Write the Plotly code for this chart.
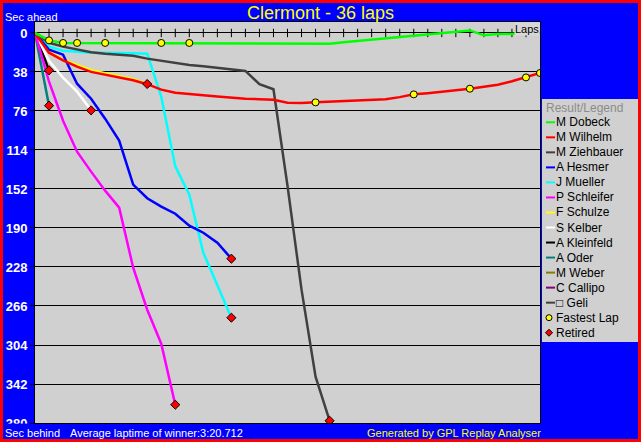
import plotly.graph_objects as go

# ---------------- data (seconds behind reference pace, one value per lap from lap 0) ----------------
drivers = ["M Dobeck", "M Wilhelm", "M Ziehbauer", "A Hesmer", "J Mueller", "P Schleifer",
           "F Schulze", "S Kelber", "A Kleinfeld", "A Oder", "M Weber", "C Callipo", "\u25a1 Geli"]
colors = ["#00FF00", "#FF0000", "#404040", "#0000FF", "#00FFFF", "#FF00FF",
          "#FFFF00", "#FFFFFF", "#000000", "#008080", "#808000", "#800080", "#404040"]

dobeck = [0, 7.2, 9.7, 9.7, 9.7, 9.7, 9.7, 9.7, 9.7, 9.7, 9.7, 9.7, 9.7, 9.7,
          10.4, 10.4, 10.4, 10.4, 10.4, 10.4, 10.4, 10.4,
          9.1, 7.8, 6.8, 5.8, 4.6, 2.6, 1.4, 0.4, -1.0, -2.5, 2.3, 1.0, 1.0, 0.0, 0.0]
wilhelm = [0, 19.2, 26.6, 32.8, 37.9, 40.6, 43.1, 46.0, 49.9, 55.2, 58.2, 59.1, 60.6,
           61.8, 63.0, 64.0, 64.5, 65.0, 67.9, 68.2, 67.6, 66.9, 66.5, 65.5, 65.3, 64.5,
           62.5, 59.8, 58.6, 57.5, 55.9, 54.3, 52.0, 50.4, 47.0, 43.3, 39.0]
ziehbauer = [0, 9.5, 13.3, 16.3, 18.7, 20.2, 21.1, 22.1, 25.0, 27.3, 29.4, 31.2, 32.5,
             33.8, 35.8, 37.0, 49.9, 54.8, 148.8, 250.1, 334.9, 377.8]
hesmer = [0, 16.3, 21.1, 49.4, 64.0, 83.5, 104.9, 147.8, 161.0, 169.2, 176.1, 187.8,
          194.6, 204.3, 219.9]
mueller = [0, 13.3, 17.2, 18.2, 19.2, 19.2, 19.2, 19.7, 20.2, 62.1, 130.0, 157.6,
           214.1, 245.2, 277.4]
schleifer = [0, 47.5, 85.5, 115.7, 135.1, 153.6, 170.2, 228.7, 269.6, 302.7, 362.2]
schulze = [0, 18.2, 26.0, 31.4, 36.2, 39.2, 42.1, 45.0, 49.7]
kelber = [0, 27.0, 43.6, 57.2, 75.4]
kleinfeld = [0, 36.4]
oder = [0, 70.8]
weber = []
callipo = []
geli = []

series = [dobeck, wilhelm, ziehbauer, hesmer, mueller, schleifer, schulze, kelber,
          kleinfeld, oder, weber, callipo, geli]

total_laps = 36
lap_ticks = list(range(1, 36))
fastest_dobeck_laps = [1, 2, 3, 5, 9, 11]
fastest_wilhelm_laps = [20, 27, 31, 35, 36]
y_tick_vals = [0, 38, 76, 114, 152, 190, 228, 266, 304, 342, 380]
y_tick_text = [str(v) for v in y_tick_vals]

title_text = "Clermont - 36 laps"
avg_text = "Average laptime of winner:3:20.712"

# ---------------- layout geometry ----------------
W_FIG, H_FIG = 641, 442
L, R, T, B = 35, 101, 22, 19
PW = W_FIG - L - R
PH = H_FIG - T - B
FONT = "Liberation Sans, Arial, sans-serif"
BLUE = "#0000FF"
GRAY = "#D0D0D0"


def px(x):
    return (x - L) / PW


def py(y):
    return (T + PH - y) / PH


fig = go.Figure()

# lap tick marks on the zero line
fig.add_trace(go.Scatter(
    x=lap_ticks, y=[0 for _ in lap_ticks], mode="markers",
    marker=dict(symbol="line-ns", size=6, line=dict(color="black", width=1)),
    showlegend=False, hoverinfo="skip"))

# driver lines (drawn in reverse so the leaders are on top)
for name, color, vals in reversed(list(zip(drivers, colors, series))):
    if len(vals) == 0:
        continue
    fig.add_trace(go.Scatter(
        x=list(range(len(vals))), y=vals, mode="lines", name=name,
        line=dict(color=color, width=2.5), showlegend=False, hoverinfo="skip"))

# fastest laps
fl_x = fastest_dobeck_laps + fastest_wilhelm_laps
fl_y = [dobeck[l] for l in fastest_dobeck_laps] + [wilhelm[l] for l in fastest_wilhelm_laps]
fig.add_trace(go.Scatter(
    x=fl_x, y=fl_y, mode="markers",
    marker=dict(symbol="circle", size=7, color="#FFFF00", line=dict(color="black", width=1)),
    showlegend=False, hoverinfo="skip"))

# retirements
ret_x = [len(v) - 1 for v in series if 1 < len(v) < total_laps + 1]
ret_y = [v[-1] for v in series if 1 < len(v) < total_laps + 1]
fig.add_trace(go.Scatter(
    x=ret_x, y=ret_y, mode="markers",
    marker=dict(symbol="diamond", size=7, color="#FF0000", line=dict(color="black", width=1)),
    showlegend=False, hoverinfo="skip"))

shapes = []
annotations = []

# cover lower half of the clipped bottom tick label
shapes.append(dict(type="rect", xref="paper", yref="paper",
                   x0=px(3), x1=px(30.5), y0=py(423.6), y1=py(440),
                   fillcolor=BLUE, line=dict(width=0), layer="above"))

# legend box
shapes.append(dict(type="rect", xref="paper", yref="paper",
                   x0=px(542), x1=px(638), y0=py(342), y1=py(99),
                   fillcolor=GRAY, line=dict(width=0), layer="above"))
annotations.append(dict(xref="paper", yref="paper", x=px(544), y=py(107.7),
                        xanchor="left", yanchor="middle", showarrow=False,
                        text="Result/Legend", font=dict(family=FONT, size=12, color="#8C8C8C")))
step = 15.03
for i, (name, color) in enumerate(zip(drivers, colors)):
    yy = 122.3 + step * i
    shapes.append(dict(type="line", xref="paper", yref="paper",
                       x0=px(546), x1=px(555), y0=py(yy), y1=py(yy),
                       line=dict(color=color, width=2), layer="above"))
    annotations.append(dict(xref="paper", yref="paper", x=px(554), y=py(yy),
                            xanchor="left", yanchor="middle", showarrow=False,
                            text=name, font=dict(family=FONT, size=12, color="black")))
# fastest lap legend entry
yy = 122.3 + step * len(drivers)
shapes.append(dict(type="circle", xref="paper", yref="paper",
                   x0=px(546), x1=px(552), y0=py(yy + 3), y1=py(yy - 3),
                   fillcolor="#FFFF00", line=dict(color="black", width=1), layer="above"))
annotations.append(dict(xref="paper", yref="paper", x=px(554), y=py(yy),
                        xanchor="left", yanchor="middle", showarrow=False,
                        text="Fastest Lap", font=dict(family=FONT, size=12, color="black")))
# retired legend entry
yy = 122.3 + step * (len(drivers) + 1)
cx = 549
shapes.append(dict(type="path", xref="paper", yref="paper",
                   path="M {a},{b} L {c},{d} L {e},{f} L {g},{h} Z".format(
                       a=px(cx), b=py(yy - 3.5), c=px(cx + 3.5), d=py(yy),
                       e=px(cx), f=py(yy + 3.5), g=px(cx - 3.5), h=py(yy)),
                   fillcolor="#FF0000", line=dict(color="black", width=1), layer="above"))
annotations.append(dict(xref="paper", yref="paper", x=px(554), y=py(yy),
                        xanchor="left", yanchor="middle", showarrow=False,
                        text="Retired", font=dict(family=FONT, size=12, color="black")))

# outer red frame
shapes.append(dict(type="rect", xref="paper", yref="paper",
                   x0=px(1.5), x1=px(639.5), y0=py(440.5), y1=py(1.5),
                   line=dict(color="#FF0000", width=3), layer="above"))

# texts
annotations += [
    dict(xref="paper", yref="paper", x=px(3), y=py(16.5), xanchor="left", yanchor="middle",
         showarrow=False, text="Sec ahead", font=dict(family=FONT, size=11, color="white")),
    dict(xref="paper", yref="paper", x=px(3), y=py(433), xanchor="left", yanchor="middle",
         showarrow=False, text="Sec behind", font=dict(family=FONT, size=11, color="white")),
    dict(xref="paper", yref="paper", x=px(67.5), y=py(433), xanchor="left", yanchor="middle",
         showarrow=False, text=avg_text, font=dict(family=FONT, size=11, color="white")),
    dict(xref="paper", yref="paper", x=px(543), y=py(433), xanchor="right", yanchor="middle",
         showarrow=False, text="Generated by GPL Replay Analyser",
         font=dict(family=FONT, size=11, color="#FFFF00")),
    dict(xref="paper", yref="paper", x=px(539.5), y=py(22.5), xanchor="right", yanchor="top",
         showarrow=False, text="Laps", bgcolor="#D8D8D8", borderpad=0,
         font=dict(family=FONT, size=11, color="black")),
]

fig.update_layout(
    width=W_FIG, height=H_FIG, autosize=False,
    margin=dict(l=L, r=R, t=T, b=B, pad=0, autoexpand=False),
    paper_bgcolor=BLUE, plot_bgcolor=GRAY,
    showlegend=False,
    title=dict(text=title_text, x=0.5, xref="container", xanchor="center",
               y=1 - 12.5 / H_FIG, yref="container", yanchor="middle",
               font=dict(family=FONT, size=18, color="#FFFF00")),
    xaxis=dict(range=[0, total_laps], showgrid=False, zeroline=False, showticklabels=False,
               ticks="", showline=True, mirror=True, linecolor="black", linewidth=1,
               fixedrange=True, automargin=False),
    yaxis=dict(range=[380, -10.7], tickmode="array", tickvals=y_tick_vals, ticktext=y_tick_text,
               tickfont=dict(family=FONT, size=13, color="white", weight="bold"),
               ticks="outside", ticklen=4, tickcolor="black", tickwidth=1,
               showgrid=True, gridcolor="black", gridwidth=1, zeroline=False,
               showline=True, mirror=True, linecolor="black", linewidth=1, fixedrange=True,
               automargin=False),
    shapes=shapes, annotations=annotations,
)

fig.write_html("out.html", config={"displayModeBar": False},
               post_script="document.body.style.margin='0';document.body.style.overflow='hidden';")
